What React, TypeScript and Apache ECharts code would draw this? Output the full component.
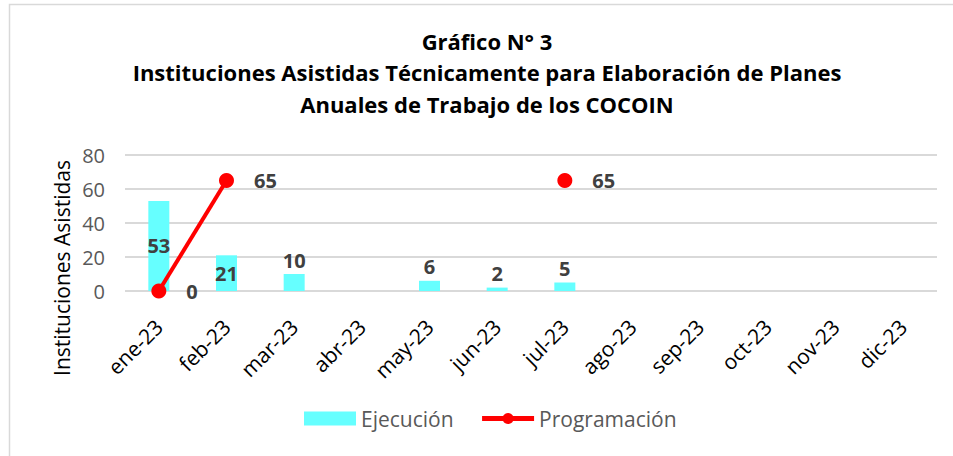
import React, { useEffect, useRef } from "react";
import * as echarts from "echarts";

const categories = ["ene-23", "feb-23", "mar-23", "abr-23", "may-23", "jun-23", "jul-23", "ago-23", "sep-23", "oct-23", "nov-23", "dic-23"];
const ejecucion: (number | null)[] = [53, 21, 10, null, 6, 2, 5, null, null, null, null, null];
const programacion: (number | null)[] = [0, 65, null, null, null, null, 65, null, null, null, null, null];
const yTicks = { min: 0, max: 80, interval: 20 };
const titleLines = ["Gráfico N° 3", "Instituciones Asistidas Técnicamente para Elaboración de Planes", "Anuales de Trabajo de los COCOIN"];
const yAxisTitle = "Instituciones Asistidas";

const FONT = "'Open Sans', 'Noto Sans', sans-serif";

export default function App() {
  const ref = useRef<HTMLDivElement>(null);
  useEffect(() => {
    if (!ref.current) return;
    const chart = echarts.init(ref.current, null, { renderer: "svg" });
    chart.setOption({
      animation: false,
      textStyle: { fontFamily: FONT },
      title: {
        text: titleLines.join("\n"),
        left: 482,
        textAlign: "center",
        top: 20,
        textStyle: { fontFamily: FONT, fontWeight: "bold", fontSize: 22, color: "#000", lineHeight: 31.5 },
      },
      graphic: [
        {
          type: "rect",
          shape: { x: 9.5, y: 4.5, width: 960, height: 470 },
          style: { fill: "none", stroke: "#d9d9d9", lineWidth: 1.5 },
          silent: true,
        },
        {
          type: "text",
          x: 62,
          y: 268,
          rotation: Math.PI / 2,
          style: { text: yAxisTitle, fontFamily: FONT, fontSize: 21, fill: "#000", align: "center", verticalAlign: "middle" },
        },
      ],
      legend: {
        top: 403,
        left: 299,
        itemGap: 26,
        itemWidth: 52,
        itemHeight: 14,
        textStyle: { fontFamily: FONT, fontSize: 21, color: "#595959" },
        data: [
          { name: "Ejecución", icon: "rect" },
          { name: "Programación", lineStyle: { width: 5 } },
        ],
      },
      grid: { left: 125, right: 16, top: 155, bottom: 165 },
      xAxis: {
        type: "category",
        data: categories,
        axisLine: { show: false },
        axisTick: { show: false },
        axisLabel: { rotate: 45, fontFamily: FONT, fontSize: 21, color: "#000", margin: 32, interval: 0 },
      },
      yAxis: {
        type: "value",
        min: yTicks.min,
        max: yTicks.max,
        interval: yTicks.interval,
        axisLine: { show: false },
        axisTick: { show: false },
        axisLabel: { fontFamily: FONT, fontSize: 20, color: "#595959", margin: 20 },
        splitLine: { lineStyle: { color: "#d9d9d9", width: 2 } },
      },
      series: [
        {
          name: "Ejecución",
          type: "bar",
          data: ejecucion.map((v) => ({
            value: v,
            label: { position: v !== null && v >= 20 ? "inside" : "top" },
          })),
          barWidth: 21,
          itemStyle: { color: "#66FFFF" },
          label: {
            show: true,
            fontFamily: FONT,
            fontSize: 20,
            fontWeight: "bold",
            color: "#404040",
            distance: 4,
          },
        },
        {
          name: "Programación",
          type: "line",
          data: programacion,
          connectNulls: false,
          symbol: "circle",
          symbolSize: 15,
          lineStyle: { color: "#ff0000", width: 4 },
          itemStyle: { color: "#ff0000" },
          label: {
            show: true,
            position: "right",
            distance: 20,
            fontFamily: FONT,
            fontSize: 20,
            fontWeight: "bold",
            color: "#404040",
          },
          z: 3,
        },
      ],
    });
    return () => chart.dispose();
  }, []);
  return <div ref={ref} style={{ position: "absolute", left: 0, top: 0, width: 953, height: 456, background: "#fff" }} />;
}
